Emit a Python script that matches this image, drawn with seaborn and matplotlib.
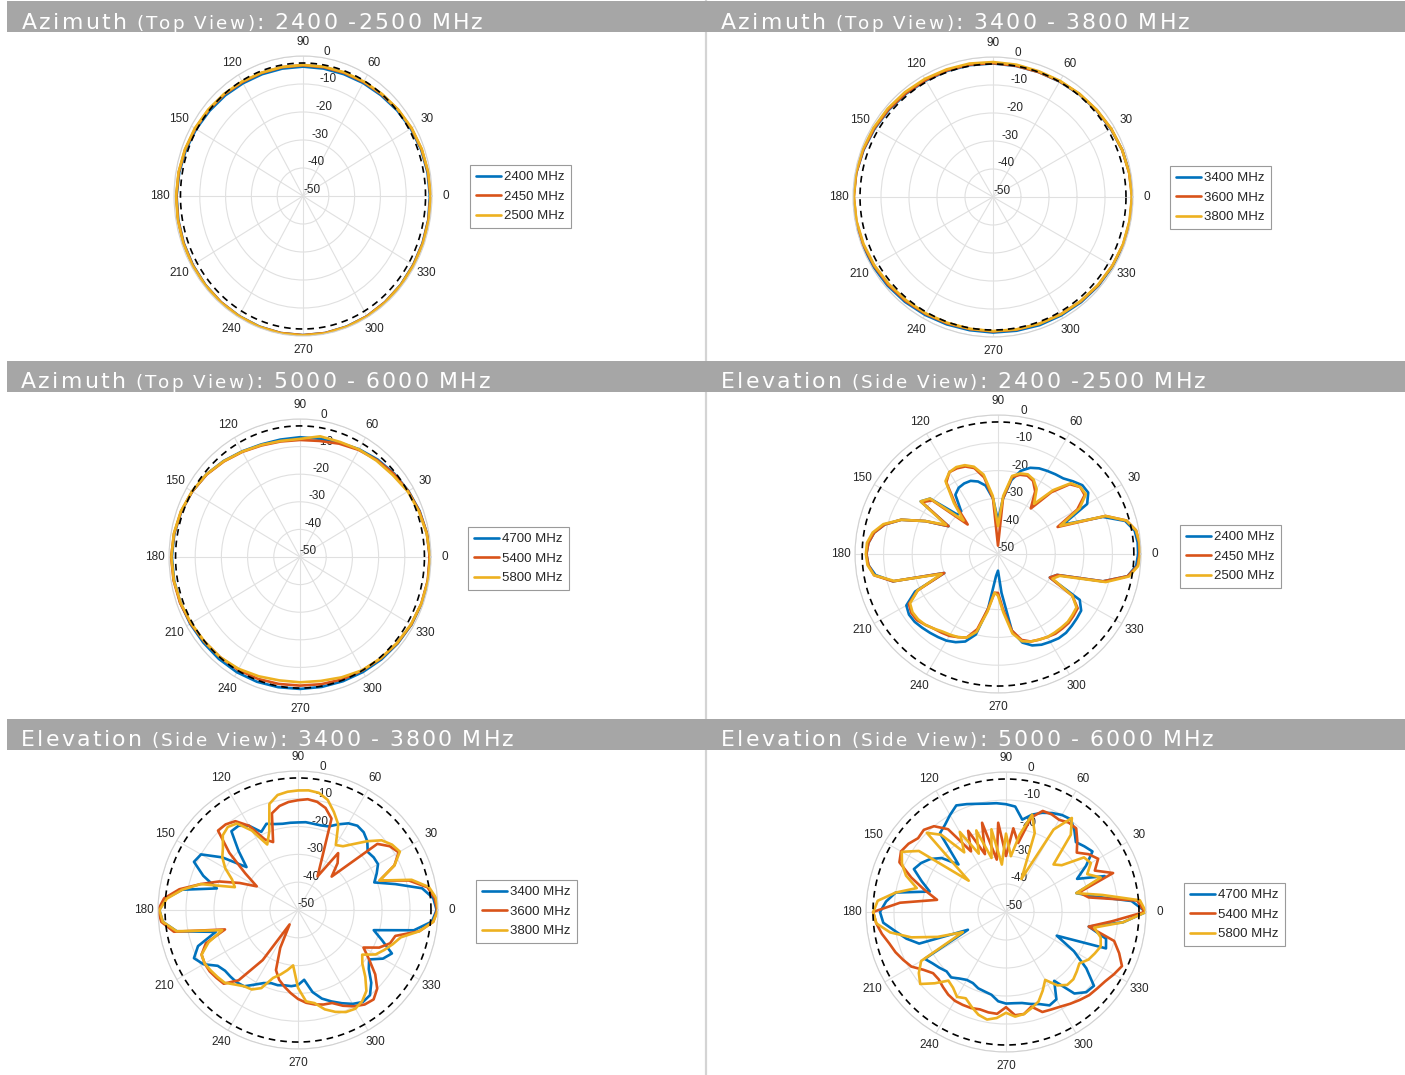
import numpy as np
import pandas as pd
import matplotlib
matplotlib.use('Agg')
import matplotlib.pyplot as plt
import seaborn as sns
from matplotlib.lines import Line2D
from matplotlib.patches import Rectangle

ANG10 = list(range(0, 360, 10))
ANG5 = list(range(0, 360, 5))

# Azimuth 2400-2500 MHz (10 deg steps)
AZ1_2400 = [-0.8, -1.0, -1.3, -1.8, -2.4, -3.0, -3.4, -3.7, -3.8, -3.8, -3.8, -3.7,
            -3.5, -3.1, -2.7, -2.2, -1.7, -1.3, -1.0, -0.9, -0.8, -0.7, -0.6, -0.5,
            -0.5, -0.4, -0.3, -0.3, -0.3, -0.4, -0.4, -0.5, -0.6, -0.7, -0.7, -0.7]
AZ1_2450 = [-0.6, -0.8, -1.1, -1.5, -2.0, -2.6, -3.0, -3.2, -3.3, -3.3, -3.3, -3.2,
            -3.0, -2.6, -2.2, -1.8, -1.4, -1.1, -0.9, -0.8, -0.7, -0.6, -0.5, -0.5,
            -0.4, -0.3, -0.3, -0.3, -0.3, -0.3, -0.4, -0.5, -0.5, -0.6, -0.6, -0.6]
AZ1_2500 = [-0.5, -0.7, -1.0, -1.4, -1.9, -2.4, -2.8, -3.0, -3.1, -3.2, -3.2, -3.1,
            -2.8, -2.4, -2.0, -1.6, -1.3, -1.0, -0.8, -0.7, -0.6, -0.5, -0.5, -0.4,
            -0.4, -0.3, -0.2, -0.2, -0.2, -0.3, -0.3, -0.4, -0.5, -0.5, -0.5, -0.5]

# Azimuth 3400-3800 MHz
AZ2_3400 = [-0.2, -0.5, -0.9, -1.4, -1.8, -2.1, -2.4, -2.5, -2.5, -2.3, -2.2, -2.1,
            -2.0, -1.8, -1.5, -1.2, -0.8, -0.4, -0.1, -0.1, -0.3, -0.5, -0.8, -1.1,
            -1.4, -1.6, -1.7, -1.6, -1.5, -1.3, -1.2, -1.0, -0.8, -0.6, -0.4, -0.3]
AZ2_3600 = [-0.3, -0.6, -0.9, -1.3, -1.7, -2.0, -2.3, -2.5, -2.4, -2.2, -2.0, -1.9,
            -1.8, -1.6, -1.3, -1.0, -0.7, -0.4, -0.3, -0.4, -0.6, -0.9, -1.2, -1.5,
            -1.8, -2.0, -2.1, -2.0, -1.9, -1.8, -1.6, -1.3, -1.0, -0.8, -0.5, -0.4]
AZ2_3800 = [-0.4, -0.6, -0.9, -1.2, -1.6, -1.9, -2.1, -2.2, -2.0, -1.8, -1.6, -1.5,
            -1.3, -1.1, -0.9, -0.7, -0.5, -0.3, -0.3, -0.5, -0.8, -1.1, -1.5, -1.8,
            -2.0, -2.2, -2.2, -2.1, -2.0, -1.8, -1.6, -1.4, -1.1, -0.8, -0.6, -0.5]

# Azimuth 5000-6000 MHz
AZ3_4700 = [-0.4, -0.8, -1.4, -2.2, -3.0, -3.9, -4.9, -5.9, -6.5, -6.6, -6.8, -6.6,
            -5.8, -4.6, -3.4, -2.5, -1.8, -1.3, -1.1, -1.2, -1.4, -1.6, -1.8, -1.8,
            -1.8, -1.9, -2.1, -2.2, -2.2, -2.1, -1.9, -1.6, -1.3, -0.9, -0.6, -0.4]
AZ3_5400 = [-0.5, -0.8, -1.5, -2.3, -3.2, -4.2, -5.2, -6.3, -7.3, -7.6, -7.5, -7.0,
            -6.0, -4.8, -3.5, -2.5, -1.7, -1.2, -0.8, -1.0, -1.3, -1.8, -2.3, -2.6,
            -2.8, -3.0, -3.3, -3.4, -3.2, -2.8, -2.5, -2.0, -1.5, -1.0, -0.7, -0.5]
AZ3_5800 = [-0.3, -0.9, -1.7, -2.5, -3.8, -4.5, -5.0, -5.6, -5.6, -7.2, -7.3, -6.8,
            -5.9, -4.7, -3.4, -2.4, -1.6, -1.1, -0.9, -1.1, -1.5, -2.0, -2.4, -2.6,
            -3.2, -4.0, -4.6, -4.6, -4.4, -3.6, -2.6, -2.1, -1.6, -1.1, -0.7, -0.4]

# Elevation 2400-2500 MHz (5 deg steps)
EL1_2400 = [-1, -1, -1.5, -4, -11, -25, -14, -11.5, -11.5, -13, -14.5, -15,
            -15.5, -16, -17, -19, -23, -30, -38, -30, -25, -23, -22, -22,
            -22.5, -24, -30, -30, -19, -17, -30, -22, -14, -9, -6, -4.5,
            -4, -4.5, -6.5, -12, -30, -18, -13, -12, -12, -12.5, -13, -13.5,
            -14, -15, -16.5, -20, -30, -42, -44, -36, -22, -17, -15, -14,
            -13.5, -13, -13, -13.5, -14, -14.5, -17, -30, -28, -12, -4, -1.5]
EL1_2450 = [-0.5, -0.5, -1, -3.5, -10, -27, -18, -13, -12.5, -14.5, -21, -30,
            -24, -21, -20, -20.5, -22, -30, -47, -30, -22, -18, -16.5, -16,
            -16, -18.5, -27, -35, -20, -17.5, -30, -22, -14, -9, -6, -4.5,
            -4, -4.5, -6, -12, -30, -19, -14, -13, -13, -14, -15, -15.5,
            -16, -17, -18, -22, -30, -36, -36, -30, -22, -18, -16.5, -16,
            -15.5, -15, -15, -15, -15.5, -16, -20, -30, -28, -12, -4, -1]
EL1_2500 = [-0.3, -0.4, -1, -3.5, -10, -26, -17, -12.5, -12.5, -14, -20, -28,
            -23, -20.5, -19.5, -20, -21.5, -29, -40, -29, -21, -17.5, -16, -15.5,
            -16, -18, -26, -33, -19, -17, -29, -22, -14, -8.5, -5.5, -4,
            -3.8, -4.2, -6, -12.5, -29, -19, -14.5, -13.5, -13.5, -14, -15, -16,
            -16.5, -17, -18, -21, -29, -36, -35, -29, -21, -17.5, -16.5, -16,
            -15.5, -15.5, -15.5, -15.5, -16, -16.5, -20, -29, -27, -11, -3.5, -0.8]

# Elevation 3400-3800 MHz
EL2_3400 = [-0.5, -1.5, -5, -14, -21, -19, -17, -17, -17.5, -15, -13.5, -13,
            -14, -16, -18, -18.5, -18.5, -18.3, -18.5, -18.5, -18.5, -18, -17, -19,
            -15, -13, -13, -20, -26, -17, -10, -9, -14, -20, -8, -2.5,
            -0.5, -1.5, -6, -19.6, -12, -9, -11, -15, -16, -16, -16, -16.5,
            -19, -21, -22, -22, -22.5, -22.5, -23, -24.8, -20, -17, -15, -13,
            -11, -9.6, -10, -13, -17, -19, -15, -13, -18, -22, -8, -2]
EL2_3600 = [-0.3, -1, -3, -9, -19, -12, -8.5, -10, -13, -33, -28, -25,
            -36, -30, -15, -12, -10.5, -10, -10.5, -11, -12, -14, -24, -22,
            -15, -11, -9.8, -9.6, -18, -27, -33, -27, -20, -14, -7, -2,
            0, -1, -5, -23, -15, -12, -11.5, -11.5, -12, -12.5, -17, -28,
            -44, -35, -27, -24, -22, -20, -18, -16.5, -15.5, -14.8, -14.4, -12,
            -10, -8.5, -8, -10, -14, -19, -23, -18, -15, -14, -6, -1.5]
EL2_3800 = [0, -0.5, -2.5, -8, -19, -12, -8, -9, -11, -15, -19, -22,
            -23, -16, -12.5, -9, -7.2, -6.8, -7, -7.3, -8, -10.5, -20, -24,
            -17, -12, -11, -12, -15, -17, -20, -24, -26, -14, -8, -3,
            -0.5, -1.5, -6, -22, -16, -12, -11.5, -12, -12.5, -13, -15, -16.5,
            -17, -19, -24, -26, -28, -30, -22, -17, -16, -13, -11, -9.5,
            -9, -10, -12, -16, -20, -22, -18, -16, -14, -12, -6, -1.5]

# Elevation 5000-6000 MHz
EL3_4700 = [0, -5, -18, -24, -12.5, -22, -17, -12.3, -13.5, -14.7, -12, -9.6,
            -10, -11, -12.3, -14, -16.5, -12.2, -11.5, -11, -10.7, -10, -9, -8,
            -10, -12, -13.3, -26, -20, -17, -15, -13.7, -18, -21.8, -10, -7,
            -5, -6, -10, -13.2, -17, -35, -16.5, -18, -19, -20, -19.5, -21,
            -22, -22, -21, -20.6, -20, -18, -17.3, -17.3, -17, -16, -15, -13.2,
            -14, -20, -12, -9.5, -9, -15, -22, -30, -12, -13, -20, -8]
EL3_5400 = [-0.5, -3, -20, -23, -9.3, -15, -12, -14, -17, -14, -11, -11,
            -12, -11.5, -11.6, -15, -25, -20, -30, -18, -31, -17, -28, -18,
            -25, -13.9, -10, -8.5, -9, -7.5, -6.7, -8, -14, -20, -25, -12,
            -2.5, -3.5, -5, -6.8, -8, -9.5, -11, -14, -16, -16, -15, -14,
            -13.4, -13.4, -13.5, -14, -13.6, -13.5, -16, -13, -13, -15, -12, -11.6,
            -11, -10, -9, -8, -7.5, -6.8, -5.5, -4.3, -7, -10, -20, -12]
EL3_5800 = [0, -2, -15, -24, -14, -18, -15, -16, -24, -26, -14, -9,
            -16, -37, -20, -14, -22, -30, -22, -33, -20, -30, -19, -27,
            -17, -24, -14, -10, -32.6, -12, -7, -9, -12, -17, -10, -4,
            -2.6, -3.5, -8, -15, -24, -33, -15, -12, -10, -14, -18, -17,
            -15, -16, -14, -12, -11, -12, -14, -12.5, -13, -14.5, -16, -19,
            -22, -18, -16, -16, -17, -18, -16, -15, -14, -15, -18, -8]

REF_DB = -2.5
COLORS = ['#0072BD', '#D95319', '#EDB120']

PANELS = [
    dict(title=['Azimuth', ' (Top View)', ': 2400 -2500 MHz'], head=(22, 29),
         ang=ANG10, data=[AZ1_2400, AZ1_2450, AZ1_2500],
         labels=['2400 MHz', '2450 MHz', '2500 MHz'],
         box=(303, 196, 129, 140), leg=(470, 165)),
    dict(title=['Azimuth', ' (Top View)', ': 3400 - 3800 MHz'], head=(721, 29),
         ang=ANG10, data=[AZ2_3400, AZ2_3600, AZ2_3800],
         labels=['3400 MHz', '3600 MHz', '3800 MHz'],
         box=(993, 197, 140, 140), leg=(1170, 166)),
    dict(title=['Azimuth', ' (Top View)', ': 5000 - 6000 MHz'], head=(21, 388),
         ang=ANG10, data=[AZ3_4700, AZ3_5400, AZ3_5800],
         labels=['4700 MHz', '5400 MHz', '5800 MHz'],
         box=(300, 557, 131, 138), leg=(468, 527)),
    dict(title=['Elevation', ' (Side View)', ': 2400 -2500 MHz'], head=(721, 388),
         ang=ANG5, data=[EL1_2400, EL1_2450, EL1_2500],
         labels=['2400 MHz', '2450 MHz', '2500 MHz'],
         box=(998, 554, 143, 139), leg=(1180, 525)),
    dict(title=['Elevation', ' (Side View)', ': 3400 - 3800 MHz'], head=(21, 746),
         ang=ANG5, data=[EL2_3400, EL2_3600, EL2_3800],
         labels=['3400 MHz', '3600 MHz', '3800 MHz'],
         box=(298, 910, 140, 139), leg=(476, 880)),
    dict(title=['Elevation', ' (Side View)', ': 5000 - 6000 MHz'], head=(721, 746),
         ang=ANG5, data=[EL3_4700, EL3_5400, EL3_5800],
         labels=['4700 MHz', '5400 MHz', '5800 MHz'],
         box=(1006, 912, 140, 140), leg=(1184, 883)),
]

sns.set_theme(style='white')
plt.rcParams['font.family'] = ['Liberation Sans', 'DejaVu Sans']
plt.rcParams['axes.unicode_minus'] = False

W, H = 1405, 1075
fig = plt.figure(figsize=(W / 100, H / 100), dpi=100)
renderer = fig.canvas.get_renderer()

# header bands and separator
fig.add_artist(Line2D([706 / W, 706 / W], [0, 1], transform=fig.transFigure,
                      color='#d4d4d4', lw=1.6, zorder=0.5))
for y0, y1 in [(1, 32), (361, 392), (719, 750)]:
    fig.add_artist(Rectangle((7 / W, 1 - y1 / H), (W - 7) / W, (y1 - y0) / H,
                             transform=fig.transFigure, color='#a6a6a6', lw=0, zorder=1))

GAP = 2.3


def header(x, base, parts):
    sizes = [15.8, 13.2, 15.8]
    for txt, size in zip(parts, sizes):
        px = size * 100 / 72
        for ch in txt:
            if ch == ' ':
                x += 0.26 * px + GAP
                continue
            t = fig.text(x / W, 1 - base / H, ch, fontsize=size, color='white',
                         family='DejaVu Sans', ha='left', va='baseline', zorder=3)
            x += t.get_window_extent(renderer=renderer).width + GAP


for p in PANELS:
    header(p['head'][0], p['head'][1], p['title'])

    cx, cy, rx, ry = p['box']
    ax = fig.add_axes([(cx - rx) / W, 1 - (cy + ry) / H, 2 * rx / W, 2 * ry / H],
                      projection='polar')
    ax.set_aspect('auto')

    frames = []
    for lab, vals in zip(p['labels'], p['data']):
        a = list(p['ang']) + [360]
        v = list(vals) + [vals[0]]
        frames.append(pd.DataFrame({'theta': np.deg2rad(a), 'gain': v, 'freq': lab}))
    df = pd.concat(frames, ignore_index=True)
    sns.lineplot(data=df, x='theta', y='gain', hue='freq',
                 palette=dict(zip(p['labels'], COLORS)), sort=False, estimator=None,
                 linewidth=1.9, legend=False, ax=ax)

    t = np.linspace(0, 2 * np.pi, 361)
    ax.plot(t, np.full_like(t, REF_DB), color='black', lw=1.2, ls=(0, (4, 3)), zorder=4)

    ax.set_xlabel('')
    ax.set_ylabel('')
    ax.set_theta_zero_location('E')
    ax.set_thetagrids(range(0, 360, 30), labels=[str(a) for a in range(0, 360, 30)],
                      fontsize=8.5, color='#262626')
    ax.set_rlim(-50, 0)
    ax.set_rticks([-50, -40, -30, -20, -10, 0])
    ax.set_yticklabels(['-50', '-40', '-30', '-20', '-10', '0'], fontsize=8.5, color='#262626')
    ax.set_rlabel_position(81)
    ax.tick_params(axis='x', pad=3, length=0)
    ax.tick_params(axis='y', length=0)
    ax.grid(True, color='#e0e0e0', lw=0.8)
    ax.spines['polar'].set_color('#d2d2d2')
    ax.spines['polar'].set_linewidth(0.8)

    handles = [Line2D([], [], color=c, lw=1.9) for c in COLORS]
    lx, ly = p['leg']
    leg = ax.legend(handles, p['labels'], loc='upper left',
                    bbox_to_anchor=(lx / W, 1 - ly / H), bbox_transform=fig.transFigure,
                    fontsize=9.5, frameon=True, fancybox=False, framealpha=1,
                    edgecolor='#9a9a9a', borderpad=0.45, labelspacing=0.55,
                    handlelength=1.9, handletextpad=0.25, borderaxespad=0)
    leg.get_frame().set_linewidth(0.8)

fig.savefig('out.png', dpi=100, facecolor='white')
